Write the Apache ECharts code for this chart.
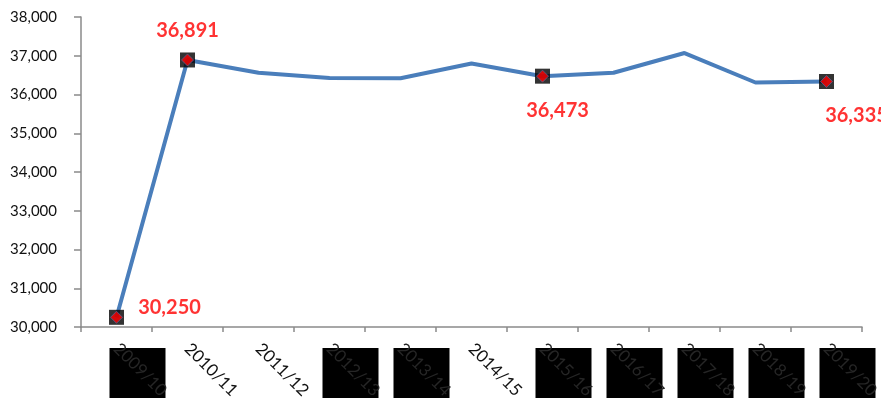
<!DOCTYPE html>
<html>
<head>
<meta charset="utf-8">
<script src="https://cdn.jsdelivr.net/npm/echarts@6/dist/echarts.min.js"></script>
<style>
  html, body { margin: 0; padding: 0; background: #fff; }
  #chart { width: 881px; height: 398px; }
</style>
</head>
<body>
<div id="chart"></div>
<script>
// Yearly totals by academic year
const years = ['2009/10', '2010/11', '2011/12', '2012/13', '2013/14', '2014/15',
               '2015/16', '2016/17', '2017/18', '2018/19', '2019/20'];
const totals = [30250, 36891, 36560, 36425, 36420, 36800, 36473, 36560, 37070, 36310, 36335];

// Points that carry a marker and a value label
const labelledIdx = [0, 1, 6, 10];
// Year labels shown on a dark panel
const darkIdx = [0, 3, 4, 6, 7, 8, 9, 10];

const yMin = 30000, yMax = 38000, yStep = 1000;

const fmt = v => v.toLocaleString('en-US');

// per-point label placement for the red value labels
const labelOffsets = {
  0: [53, -10],
  1: [0, -29],
  6: [15, 34],
  10: [30, 34]
};

const chart = echarts.init(document.getElementById('chart'));

const option = {
  animation: false,
  grid: { left: 81, right: 19, top: 17, bottom: 71, containLabel: false, outerBoundsMode: 'none' },
  xAxis: {
    type: 'category',
    data: years,
    z: 5,
    boundaryGap: true,
    axisLine: { lineStyle: { color: '#8a8a8a', width: 1.5 } },
    axisTick: { show: true, length: 5, alignWithLabel: false, lineStyle: { color: '#8a8a8a', width: 1.5 } },
    axisLabel: {
      interval: 0,
      rotate: -45,
      margin: 19,
      fontFamily: 'Lato',
      fontSize: 17,
      color: (val, idx) => darkIdx.includes(idx) ? '#262626' : '#111'
    },
    splitLine: { show: false }
  },
  yAxis: {
    type: 'value',
    min: yMin,
    max: yMax,
    interval: yStep,
    axisLine: { show: true, lineStyle: { color: '#8a8a8a', width: 1.5 } },
    axisTick: { show: true, length: 7, lineStyle: { color: '#8a8a8a', width: 1.5 } },
    axisLabel: {
      margin: 24,
      fontFamily: 'Lato',
      fontSize: 15,
      color: '#111',
      formatter: v => fmt(v)
    },
    splitLine: { show: false }
  },
  series: [
    {
      // dark panels behind some year labels
      type: 'custom',
      z: 1,
      clip: false,
      silent: true,
      data: darkIdx.map(i => [i]),
      encode: { x: 0 },
      renderItem: (params, api) => {
        const p = api.coord([api.value(0), yMin]);
        return {
          type: 'rect',
          shape: { x: p[0] - 7, y: p[1] + 21, width: 56, height: 60 },
          style: { fill: '#000' }
        };
      }
    },
    {
      type: 'line',
      data: totals,
      z: 2,
      showSymbol: false,
      symbol: 'none',
      lineStyle: { color: '#4a7ebb', width: 4 },
      itemStyle: { color: '#4a7ebb' }
    },
    {
      // square backing of the markers
      type: 'scatter',
      z: 3,
      symbol: 'rect',
      symbolSize: 15,
      itemStyle: { color: '#000' },
      data: labelledIdx.map(i => [i, totals[i]])
    },
    {
      // red diamond markers with value labels
      type: 'scatter',
      z: 4,
      symbol: 'diamond',
      symbolSize: 12,
      itemStyle: { color: '#ff0000', borderColor: '#5a5f8f', borderWidth: 1 },
      data: labelledIdx.map(i => ({
        value: [i, totals[i]],
        label: {
          show: true,
          position: 'inside',
          align: 'center',
          verticalAlign: 'middle',
          offset: labelOffsets[i],
          formatter: () => fmt(totals[i]),
          color: '#ff0000',
          fontFamily: 'Lato',
          fontWeight: 'bold',
          fontSize: 20
        }
      }))
    }
  ]
};

chart.setOption(option);
</script>
</body>
</html>
